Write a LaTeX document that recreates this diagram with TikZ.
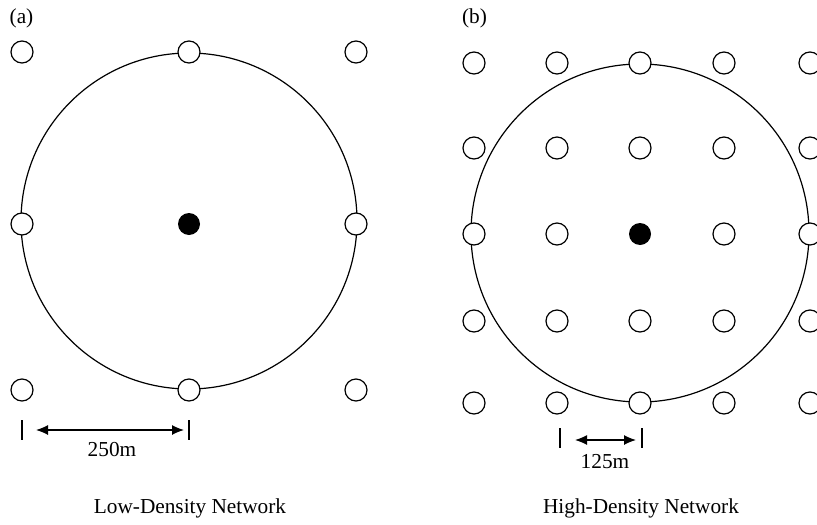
\documentclass[tikz,border=0pt]{standalone}
\usepackage{fontspec}
\setmainfont{Liberation Serif}
\usetikzlibrary{arrows.meta}
\begin{document}
\begin{tikzpicture}[x=1pt,y=-1pt,
  sensornode/.style={circle,draw,line width=1.2pt,minimum size=22pt,inner sep=0pt,fill=white},
  sinknode/.style={circle,fill=black,minimum size=22pt,inner sep=0pt},
  rangecirc/.style={line width=1.2pt},
  tickbar/.style={line width=1.2pt},
  dimarrow/.style={line width=1.2pt,{Latex[length=12pt,width=10pt]}-{Latex[length=12pt,width=10pt]}},
  lbl/.style={font=\fontsize{21.3}{25}\selectfont,inner sep=0pt}]
\useasboundingbox (0,0) rectangle (817,525);
% panel (a)
\node[lbl] (la) at (21.5,18) {(a)};
\draw[rangecirc] (189,221) circle (168);
\foreach \i/\x in {0/22,1/189,2/356}{
  \foreach \j/\y in {0/52,1/224,2/390}{
    \ifnum\i=1 \ifnum\j=1 \else \node[sensornode] (a\i\j) at (\x,\y) {}; \fi
    \else \node[sensornode] (a\i\j) at (\x,\y) {}; \fi
  }}
\node[sinknode] (asink) at (189,224) {};
\coordinate (at1) at (22,420); \coordinate (at1b) at (22,440);
\coordinate (at2) at (189,420); \coordinate (at2b) at (189,440);
\draw[tickbar] (at1) -- (at1b);
\draw[tickbar] (at2) -- (at2b);
\coordinate (aa1) at (36,430); \coordinate (aa2) at (184,430);
\draw[dimarrow] (aa1) -- (aa2);
\node[lbl] (adist) at (112,450) {250m};
\node[lbl] (atitle) at (190,508) {Low-Density Network};
% panel (b)
\node[lbl] (lb) at (474.5,18) {(b)};
\draw[rangecirc] (640,233) circle (169);
\foreach \i/\x in {0/474,1/557,2/640,3/724,4/810}{
  \foreach \j/\y in {0/63,1/148,2/234,3/321,4/403}{
    \ifnum\i=2 \ifnum\j=2 \else \node[sensornode] (b\i\j) at (\x,\y) {}; \fi
    \else \node[sensornode] (b\i\j) at (\x,\y) {}; \fi
  }}
\node[sinknode] (bsink) at (640,234) {};
\coordinate (bt1) at (560,428); \coordinate (bt1b) at (560,448);
\coordinate (bt2) at (642,428); \coordinate (bt2b) at (642,448);
\draw[tickbar] (bt1) -- (bt1b);
\draw[tickbar] (bt2) -- (bt2b);
\coordinate (ba1) at (575,440); \coordinate (ba2) at (636,440);
\draw[dimarrow] (ba1) -- (ba2);
\node[lbl] (bdist) at (605,462) {125m};
\node[lbl] (btitle) at (641,508) {High-Density Network};
\end{tikzpicture}
\end{document}
